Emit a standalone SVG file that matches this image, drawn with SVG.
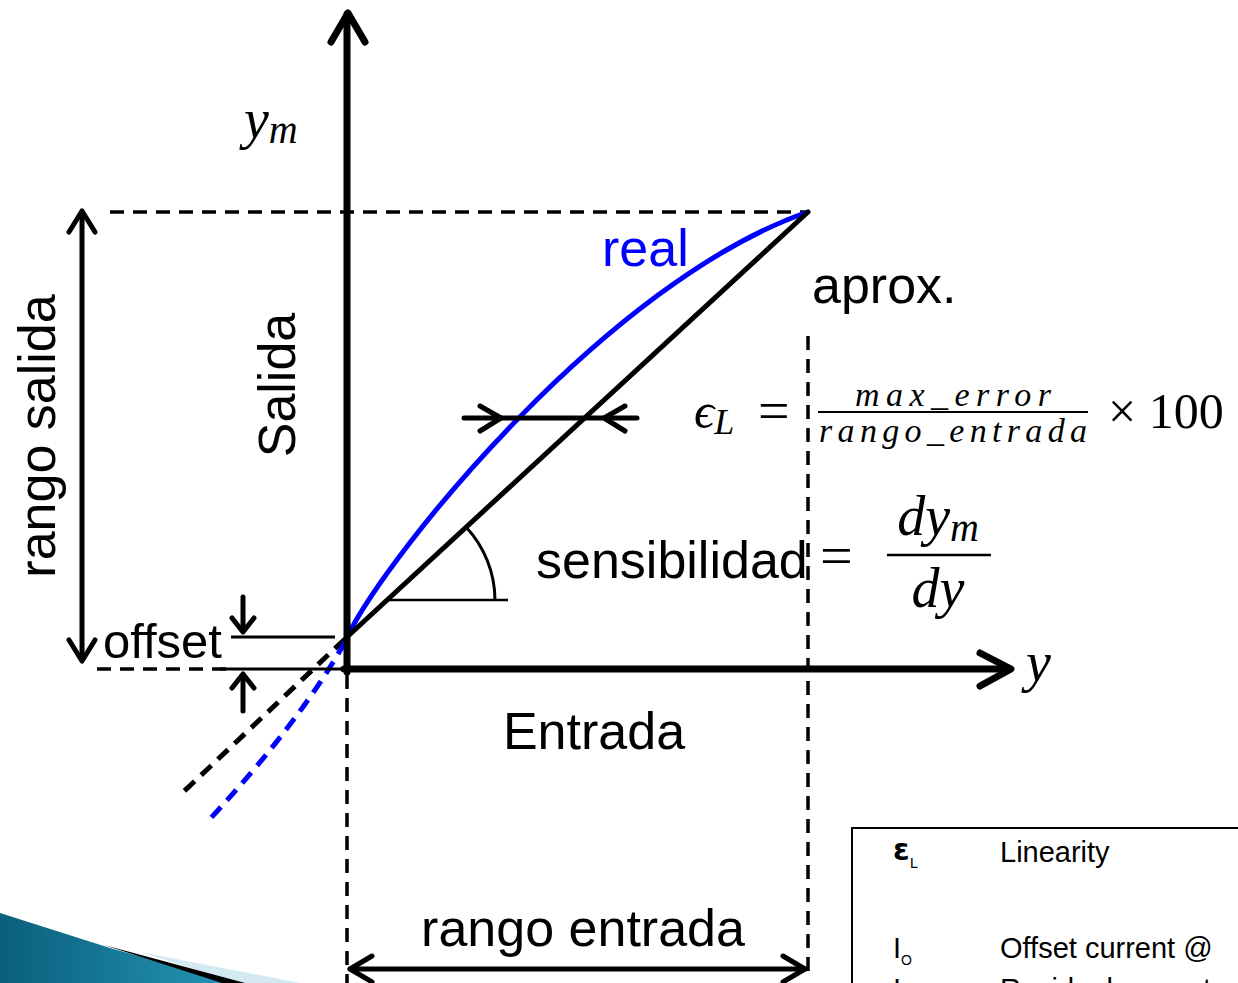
<svg xmlns="http://www.w3.org/2000/svg" width="1238" height="983" viewBox="0 0 1238 983">
<style>
.ax{stroke:#000;stroke-width:7;fill:none;stroke-linecap:round;stroke-linejoin:round}
.ln{stroke:#000;stroke-width:5;fill:none;stroke-linecap:round;stroke-linejoin:round}
.thin{stroke:#000;stroke-width:3;fill:none}
.dash{stroke:#000;stroke-width:3.5;fill:none;stroke-dasharray:14 9}
.blue{stroke:#0000ff;stroke-width:5;fill:none}
.lbl{font-family:"Liberation Sans",Arial,sans-serif;font-size:52px;fill:#000}
.math{font-family:"Liberation Serif","DejaVu Serif",serif;font-style:italic;fill:#000}
.mathu{font-family:"Liberation Serif","DejaVu Serif",serif;fill:#000}
.tbl{font-family:"Liberation Sans",Arial,sans-serif;font-size:29px;fill:#000}
</style>
<defs>
<linearGradient id="teal" x1="0" y1="0" x2="1" y2="0">
<stop offset="0" stop-color="#0a5f7c"/>
<stop offset="1" stop-color="#2496b4"/>
</linearGradient>
</defs>
<rect width="1238" height="983" fill="#fff"/>

<g id="decor">
<polygon points="0,913 110,948 235,983 0,983" fill="url(#teal)"/>
<polygon points="140,952 300,983 240,983" fill="#d4eaf2"/>
<polygon points="104,945 245,983 222,983" fill="#000"/>
</g>

<g id="connectors">
<line class="dash" x1="110" y1="212" x2="808" y2="212"/>
<line class="dash" x1="97" y1="669" x2="230" y2="669"/>
<line class="dash" x1="347" y1="675" x2="347" y2="983"/>
<line class="dash" x1="808" y1="336" x2="808" y2="975"/>
<line class="dash" x1="345" y1="639" x2="178" y2="797" style="stroke-width:5"/>
<path d="M345,642 Q300,722 209,820" style="stroke:#0000ff;stroke-width:5;fill:none;stroke-dasharray:14 9"/>
<line class="thin" x1="231" y1="637" x2="335" y2="637"/>
<line class="thin" x1="220" y1="669" x2="347" y2="669"/>
<path class="blue" d="M347,637 C390,550 610,280 808,212"/>
<line class="ln" x1="347" y1="637" x2="808" y2="212"/>
<line x1="388" y1="600" x2="508" y2="600" style="stroke:#000;stroke-width:2.5"/>
<path d="M466,527 A108,108 0 0 1 495,600" style="stroke:#000;stroke-width:3;fill:none"/>
<line class="ax" x1="347" y1="672" x2="347" y2="14"/>
<polyline class="ax" points="331,42 348,13 365,42"/>
<line class="ax" x1="344" y1="669" x2="1008" y2="669"/>
<polyline class="ax" points="980,653 1011,669 980,686"/>
<line class="ln" x1="82" y1="213" x2="82" y2="659"/>
<polyline class="ln" points="69,232 82,211 95,232"/>
<polyline class="ln" points="69,640 82,661 95,640"/>
<line class="ln" x1="350" y1="969" x2="805" y2="969"/>
<polyline class="ln" points="372,956 350,969 372,982"/>
<polyline class="ln" points="783,956 805,969 783,982"/>
<line class="ln" x1="464" y1="418" x2="637" y2="418"/>
<polyline class="ln" points="480,406 501,418 480,431"/>
<polyline class="ln" points="625,406 604,418 625,431"/>
<line class="ln" x1="243" y1="597" x2="243" y2="631"/>
<polyline class="ln" points="232,618 243,632 254,618"/>
<line class="ln" x1="243" y1="711" x2="243" y2="675"/>
<polyline class="ln" points="232,688 243,674 254,688"/>
</g>

<g id="labels">
<text class="math" x="244" y="138" font-size="56">y<tspan font-size="40" dy="5">m</tspan></text>
<text class="math" x="1026" y="681" font-size="56">y</text>
<text class="lbl" x="602" y="266" style="fill:#0000ff">real</text>
<text class="lbl" x="812" y="303">aprox.</text>
<text class="lbl" transform="translate(295,385) rotate(-90)" text-anchor="middle">Salida</text>
<text class="lbl" transform="translate(55,436) rotate(-90)" text-anchor="middle">rango salida</text>
<text class="lbl" x="594" y="749" text-anchor="middle">Entrada</text>
<text class="lbl" x="536" y="578">sensibilidad</text>
<text class="lbl" x="583" y="946" text-anchor="middle">rango entrada</text>
<text class="lbl" x="103" y="658" style="font-size:49px">offset</text>
</g>

<g id="formula-linearity">
<text class="math" x="694" y="428" font-size="50">ϵ<tspan font-size="36" dy="6">L</tspan></text>
<text class="mathu" x="758" y="430" font-size="56">=</text>
<text class="math" x="953" y="406" font-size="34" text-anchor="middle" textLength="196" lengthAdjust="spacing">max_error</text>
<line x1="818" y1="412" x2="1088" y2="412" style="stroke:#000;stroke-width:2"/>
<text class="math" x="953" y="442" font-size="34" text-anchor="middle" textLength="268" lengthAdjust="spacing">rango_entrada</text>
<text class="mathu" x="1108" y="428" font-size="50">× 100</text>
</g>

<g id="formula-sens">
<text class="mathu" x="820" y="575" font-size="58">=</text>
<text class="math" x="938" y="535" font-size="56" text-anchor="middle">dy<tspan font-size="40" dy="6">m</tspan></text>
<line x1="887" y1="555" x2="991" y2="555" style="stroke:#000;stroke-width:2.5"/>
<text class="math" x="938" y="607" font-size="56" text-anchor="middle">dy</text>
</g>

<g id="table">
<path d="M852,983 V828 H1238" style="stroke:#000;stroke-width:2;fill:none"/>
<text x="893" y="860" style="font-family:'DejaVu Sans',sans-serif;font-weight:bold;font-size:30px">ε<tspan font-size="14" font-weight="normal" dy="8">L</tspan></text>
<text class="tbl" x="1000" y="862">Linearity</text>
<text class="tbl" x="893" y="958">I<tspan font-size="14" dy="7">O</tspan></text>
<text class="tbl" x="1000" y="958">Offset current @</text>
<text class="tbl" x="893" y="999">I</text>
<text class="tbl" x="1000" y="999">Residual current</text>
</g>
</svg>
